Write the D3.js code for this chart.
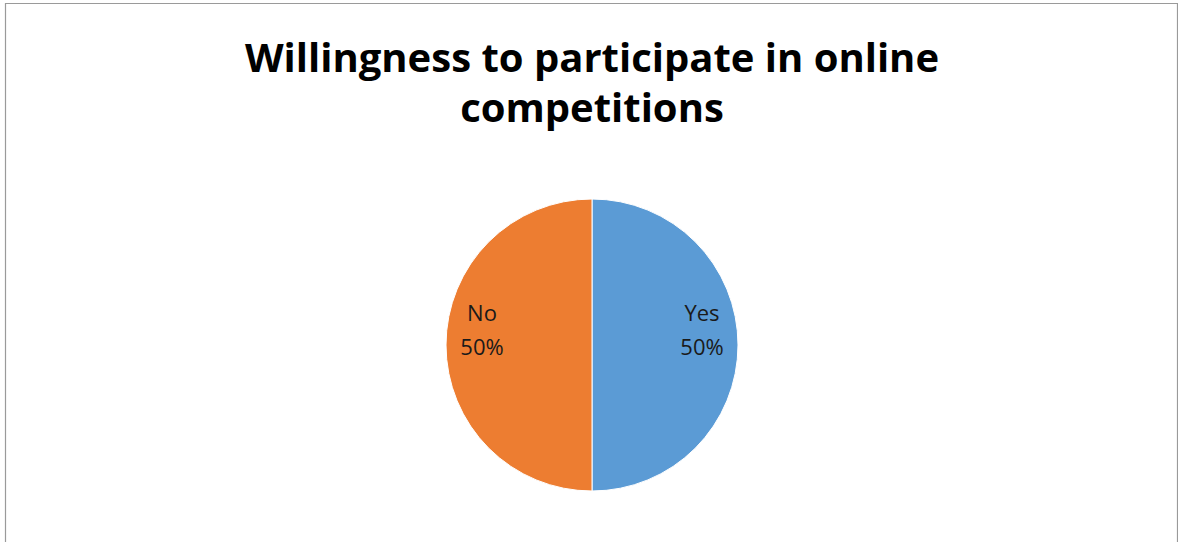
<!DOCTYPE html>
<html>
<head>
<meta charset="utf-8">
<script src="https://cdn.jsdelivr.net/npm/d3@7"></script>
<style>
  html, body { margin: 0; padding: 0; background: #fff; }
  svg { display: block; }
</style>
</head>
<body>
<svg id="chart" width="1178" height="542"></svg>
<script>
// Survey answers and their shares
const categories = ["Yes", "No"];
const values = [50, 50];
const colors = ["#5B9BD5", "#ED7D31"];
const titleLines = ["Willingness to participate in online", "competitions"];

const svg = d3.select("#chart");
const W = 1178, H = 542;

// chart frame
svg.append("rect").attr("x", 0).attr("y", 0).attr("width", W).attr("height", H).attr("fill", "#fff");
svg.append("path")
  .attr("d", `M5.5,${H} V3.5 H1177.5 V${H}`)
  .attr("fill", "none").attr("stroke", "#9a9a9a").attr("stroke-width", 1.2);

// title
const title = svg.append("text")
  .attr("text-anchor", "middle")
  .attr("font-family", "'Open Sans', 'Noto Sans', sans-serif")
  .attr("font-weight", "bold")
  .attr("font-size", 40)
  .attr("fill", "#000");
titleLines.forEach((t, i) => {
  title.append("tspan").attr("x", 592).attr("y", 72 + i * 50).text(t);
});

// pie
const cx = 592, cy = 345, R = 146;
const data = categories.map((c, i) => ({ cat: c, value: values[i], color: colors[i] }));
const pie = d3.pie().value(d => d.value).sort(null);
const arc = d3.arc().innerRadius(0).outerRadius(R);
const labelArc = d3.arc().innerRadius(110).outerRadius(110);
const total = d3.sum(values);

const g = svg.append("g").attr("transform", `translate(${cx},${cy})`);
const arcs = pie(data);

g.selectAll("path.slice")
  .data(arcs)
  .join("path")
  .attr("class", "slice")
  .attr("d", arc)
  .attr("fill", d => d.data.color)
  .attr("stroke", "#fff")
  .attr("stroke-width", 1);

const labels = g.selectAll("text.lbl")
  .data(arcs)
  .join("text")
  .attr("class", "lbl")
  .attr("text-anchor", "middle")
  .attr("font-family", "'Open Sans', 'Noto Sans', sans-serif")
  .attr("font-size", 22)
  .attr("fill", "#1a1a1a")
  .attr("transform", d => {
    const [x, y] = labelArc.centroid(d);
    return `translate(${x},${y - 15})`;
  });
labels.append("tspan").attr("x", 0).attr("y", -17).attr("dy", "0.35em").text(d => d.data.cat);
labels.append("tspan").attr("x", 0).attr("y", 17).attr("dy", "0.35em")
  .text(d => Math.round(d.data.value / total * 100) + "%");
</script>
</body>
</html>
